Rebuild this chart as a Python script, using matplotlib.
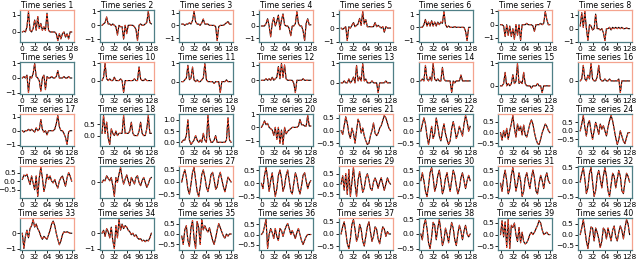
import matplotlib
matplotlib.use("Agg")
import matplotlib.pyplot as plt
from matplotlib.ticker import MultipleLocator
import numpy as np

# time axis: one sample every 4 steps, 0..128
t = np.arange(0, 129, 4)

ts1 = [0, 0.05, 0, 0.3, 1.2, 0.1, 0, 0.2, 0.7, 0.1, 0.9, 0.2, 0.5, 0.1, 0.3, 0.1, 1.1, 0.1, 0, 0, 0, 0, -0.1, -0.5, -0.1, -0.4, -0.1, 0, -0.3, -0.1, -0.4, 0, 0]
ts2 = [0, 0.1, 0.2, 0.6, 0.1, 0.1, 0, 0.1, 0, -0.1, -0.7, 0, -0.1, -0.1, -1.0, 0, -0.6, 0, 0, 0, 0, -0.1, -0.3, -1.1, 0, 0.1, 0, 0, 0.1, 0.2, 1.0, 0.2, 0.1]
ts3 = [0.1, 0.1, 0, 0.1, 0.1, 0.2, 0.1, 0.4, 1.1, 0.3, 0.1, 0.1, 0, 0.2, 0.5, 0.1, 0.1, 0.1, 0, 0, 0, 0, -0.1, -1.2, -0.1, 0, 0, 0, 0.1, 0.2, 0.3, 0.1, 0.1]
ts4 = [0, 0, 0, 0.2, 0.6, 0, -0.9, 0.2, 0.7, 0, 0.4, 0.9, -0.3, 0.5, 1.0, 0.1, 0, 0, -0.2, -0.8, 0, 0, 0.2, 1.2, 0.2, 0, 0, -0.4, -1.2, 0.2, 0.6, 0.1, 0.1]
ts5 = [0, -0.1, 0, 0.1, -0.9, 0.1, 0, 0.2, 0.4, 0.1, 0.2, 0.3, 0.7, 0.2, 1.2, 0.3, 0.6, 0.1, 0.1, 0.1, 0.1, 0.1, 0.4, 0.1, 0.2, 0.1, 0, 0.1, -0.3, 0.1, 0, 0, 0]
ts6 = [0, 0, 0.2, 0.6, 0.1, 0.4, 0.1, 0.5, 0.1, 0.4, 0.1, 0.4, 0.2, 0.4, 0.3, 1.2, 0.2, 0, 0.1, 0, 0, 0, 0.05, 0, 0, 0, 0, 0, 0, -0.3, -1.0, 0, 0]
ts7 = [0, 0, -0.1, -0.9, 0, -0.8, -0.1, -0.9, -0.3, -1.1, 0, -0.8, 0, -1.2, 0, 0, 0, 0.1, 0, 0, 0, -0.1, -0.5, 0, 0, 0, 0.1, 0, 0.1, 1.0, 0.4, 0, 0]
ts8 = [0.2, 1.2, 0.1, 1.3, 0, -0.9, 0.3, 0.2, -0.1, 0, 1.1, 0, 0, -0.1, 0, -0.3, -0.9, 0, 0, 0.1, -0.1, 0.1, 0, 0.1, 0, 0.1, 0, 0.1, 0, 0, 0.05, 0, 0]
ts9 = [0, 0.1, 0, 0.2, -1.0, 0.1, 0, 0.3, 1.0, 0.1, 0, -0.2, -0.9, 0, 0.2, -0.8, 0.1, 0, 0, 0.1, 0, 0, 0.1, 0.5, 0, 0, 0, 0.1, 0, 0, 0.1, 0, 0]
ts10 = [0, 0.2, 1.0, 0.1, 0, 0.1, 0, 0, 0.2, 0, 0, 0, 0.1, 0, -0.7, 0, 0, 0, 0, 0, 0, 0.1, 0, 0, 0.8, 0.1, 0, 0, 0.1, 0, 0, 0, 0]
ts11 = [0, 0, 0.1, 0.2, 0.9, 0.1, 0.2, 0.8, 0.1, 0, 0.1, 0, 0, 0.1, 0.2, 1.0, 0.1, 0, 0, 0, 0, -0.1, 0, 0, 0, -0.6, 0, 0, 0, 0.1, 0, 0, 0]
ts12 = [0, 0, 0, 0.1, 0, 0.1, 0, 0.2, 0, 0.1, 0.2, 0.9, 0.1, 1.1, 0.2, 1.0, 0.1, 0, 0, 0, 0, -0.2, -0.8, 0, 0, 0, 0, 0.1, 0, 0, 0, 0, 0]
ts13 = [0, 0, 0.1, 0, 0, 0.2, 0, 0.1, 0.3, 0, 0.9, 0.1, 0.3, 0.1, 1.0, 0.1, 0.2, 0, 0, 0, 0.1, 0, 0, 0, -0.5, 0, 0, 0, 0, 0.1, 0, 0, 0]
ts14 = [0, 0.1, 0, 0.8, 0.1, 0, 0.2, 0, 0.9, 0.1, 0, 0.1, 0, 0, 0.7, 0.1, 0, 0, 0, 0, -0.6, 0, -0.1, 0, 0, 0, 0.3, 0, 0, 0, 0, 0, 0]
ts15 = [0, 0, 0.1, 0.6, 0, 0.1, 0, 0.1, 0.5, 0.1, 0.2, 1.0, 0.1, 0.2, 0.1, 0.6, 0.1, 0, 0, 0, -0.1, 0, 0, 0, 0.1, 0, 0, -0.3, 0, 0, 0, 0, 0]
ts16 = [0, 0.1, 0.8, 0.1, 0, 0.3, 0.1, 0.9, 0.1, 0, 0, 0.2, 0.8, 0.1, 0, 0, 0.1, 0, 0, 0.1, 0, 0, 0, 0, 0, 0.1, -0.6, 0, 0, 0, 0, 0, 0]
ts17 = [0, -0.1, 0, 0, 0.1, 0, 0.1, 0, -0.1, 0.2, 0, 0.1, 0.8, 0.1, -0.1, 0, -0.3, 0, 0, 0, 0, 0.1, 0.5, 1.1, 0.3, 0, 0, -0.2, -0.5, -1.0, -0.1, 0, 0]
ts18 = [0.1, 0.9, 0.1, 0.6, -0.1, -0.4, 0.3, 0.1, 0, 0.2, 0, 0.1, 0.1, 0.1, 0.9, 0.1, 0.1, 0.1, 0.2, 0.6, 0.1, 0, 0, 0, 0.2, 0.6, 0.1, 0, 0, 0.3, 0.9, 0.1, 0.1]
ts19 = [0, 0.1, 0.1, 0.3, 1.0, 0.1, -0.1, 0, 0.1, 0.3, 0.1, 0, 0.1, 0, 0.4, 0.1, 0, 1.2, 0.2, 0, 0, 0.1, 0.3, 0, 0, 0, 0, 0, 0, 0.1, 1.1, 0.1, 0]
ts20 = [0, 0.2, 0.5, 0.2, 0.3, 0, -0.1, -0.2, -0.6, 0, -0.9, 0, -1.2, -0.2, -1.3, 0, -0.5, -0.3, -0.2, -0.1, 0, 0, 0, 0, 0.1, 0.6, 0.2, 0.2, 0.1, 0.1, 0.9, 0.1, 0.1]
ts21 = [0.0, -0.15, 0.2, 0.55, 0.3, -0.1, -0.3, 0.1, -0.1, -0.5, 0.0, 0.45, 0.3, -0.1, 0.1, -0.2, -0.4, -0.55, -0.5, -0.2, 0.0, 0.3, -0.1, -0.2, -0.1, 0.1, 0.2, 0.4, 0.6, 0.5, 0.3, 0.1, 0.0]
ts22 = [0.0, 0.3, 0.55, 0.3, -0.2, -0.55, -0.2, 0.2, -0.3, -0.1, 0.55, 0.2, -0.2, -0.4, 0.0, 0.3, -0.1, -0.35, -0.55, -0.4, 0.1, 0.4, 0.1, -0.3, -0.1, 0.2, 0.0, -0.2, 0.3, 0.65, 0.4, 0.0, 0.2]
ts23 = [0.0, -0.35, 0.1, -0.2, 0.2, -0.3, 0.1, 0.4, 0.8, 0.2, -0.2, 0.4, 0.1, 0.3, -0.1, 0.35, -0.1, -0.2, 0.1, 0.4, 0.6, 0.4, 0.0, -0.3, -0.5, -0.55, -0.3, 0.0, 0.2, 0.4, 0.3, 0.1, 0.0]
ts24 = [0.0, 0.4, 0.9, 0.2, -0.3, 0.4, 0.6, 0.0, -0.5, 0.0, 0.5, 0.2, -0.2, 0.4, 0.1, 0.3, 0.0, -0.3, 0.2, 0.6, 0.9, 0.6, 0.1, -0.4, -0.8, -0.5, 0.0, -0.3, -0.6, -0.75, -0.4, -0.1, -0.1]
ts25 = [0.1, 0.35, 0.3, 0.4, 0.1, -0.2, 0.3, -0.1, -0.5, 0.3, -0.9, 0.2, 0.8, 0.2, -0.6, -0.2, 0.4, 0.1, 0.3, 0.0, -0.1, 0.1, -0.2, -0.4, 0.0, 0.2, 0.3, 0.0, -0.3, 0.2, 0.5, 0.3, 0.0]
ts26 = [0.0, 0.15, 0.1, 0.4, 0.25, 0.1, 0.3, -0.2, -0.85, 0.3, 0.0, 0.5, 0.9, 0.3, -0.1, 0.2, 0.45, 0.1, -0.2, 0.3, 0.1, -0.1, 0.3, 0.4, 0.0, -0.2, 0.1, 0.3, 0.0, -0.3, -0.1, 0.2, 0.3]
ts27 = [0.0, 0.3, 0.5, 0.2, -0.3, -0.5, -0.1, 0.4, 0.6, 0.1, -0.4, -0.6, -0.2, 0.3, 0.5, 0.2, -0.2, -0.4, -0.1, 0.3, 0.4, 0.1, -0.3, -0.2, 0.2, 0.4, 0.1, -0.2, -0.4, -0.1, 0.2, 0.1, 0.0]
ts28 = [0.0, -0.2, 0.3, 0.6, 0.2, -0.3, 0.1, 0.4, -0.1, -0.5, -0.2, 0.3, 0.5, 0.2, -0.3, -0.1, 0.3, 0.5, 0.1, -0.3, -0.4, 0.0, 0.4, 0.2, -0.2, -0.4, -0.1, 0.3, 0.4, 0.1, -0.2, 0.0, 0.1]
ts29 = [0.0, 0.4, -0.3, 0.5, -0.5, 0.7, -0.6, 0.1, 0.8, 0.0, -0.6, 0.2, 0.6, 0.1, -0.4, -0.2, 0.3, 0.5, 0.2, -0.2, -0.3, 0.1, 0.3, 0.1, -0.2, 0.1, 0.3, 0.0, -0.3, 0.0, 0.3, 0.1, 0.0]
ts30 = [0.1, 0.4, 0.1, -0.3, -0.5, -0.1, 0.4, 0.6, 0.2, -0.3, -0.1, 0.3, 0.5, 0.1, -0.4, -0.2, 0.2, 0.4, 0.0, -0.3, 0.1, 0.5, 0.3, -0.1, -0.4, -0.2, 0.2, 0.4, 0.1, -0.2, 0.1, 0.3, 0.1]
ts31 = [0.0, -0.3, 0.2, 0.5, 0.1, -0.4, -0.2, 0.3, 0.6, 0.2, -0.3, 0.0, 0.4, 0.1, -0.5, -0.3, 0.2, 0.4, 0.1, -0.2, 0.2, 0.5, 0.2, -0.3, -0.4, 0.0, 0.3, 0.1, -0.2, 0.2, 0.4, 0.1, 0.0]
ts32 = [0.0, 0.3, 0.5, 0.1, -0.4, -0.2, 0.3, 0.5, 0.0, -0.5, -0.3, 0.2, 0.4, 0.1, -0.2, 0.2, 0.5, 0.2, -0.3, -0.5, -0.1, 0.3, 0.2, -0.2, 0.1, 0.4, 0.2, -0.3, -0.4, 0.0, 0.3, 0.2, 0.0]
ts33 = [0.0, -1.0, -0.2, 0.2, -0.3, 0.3, 0.5, 0.9, 0.4, 0.6, 0.3, 0.1, -0.2, -0.4, -0.2, -0.3, -0.4, -0.1, 0.2, 0.6, 0.8, 0.5, 0.0, -0.4, -0.75, -0.5, -0.1, 0.1, 0.05, 0.1, 0.05, 0.0, 0.0]
ts34 = [0.0, 0.2, -0.2, 0.3, 0.1, -0.3, 0.4, -0.5, -1.0, 0.5, -0.3, 0.9, 0.2, 0.6, 0.3, 0.5, 0.4, 0.2, 0.1, -0.1, 0.0, -0.2, -0.1, -0.3, -0.4, -0.35, -0.5, -0.45, -0.55, -0.45, -0.5, -0.3, 0.0]
ts35 = [-0.1, -0.5, 0.2, 0.4, -0.3, -0.6, 0.3, 0.65, -0.2, -0.7, 0.6, 0.3, -0.5, 0.7, 0.2, 0.4, 0.2, 0.1, 0.3, 0.0, -0.3, -0.5, -0.2, 0.2, 0.5, 0.3, 0.1, -0.1, -0.2, 0.0, -0.1, 0.0, 0.0]
ts36 = [0.0, 0.1, 0.4, 0.75, -0.7, 0.0, 0.3, 0.1, -0.2, 0.3, -0.1, -0.3, 0.3, 0.2, -0.1, 0.2, 0.4, 0.55, 0.3, 0.0, 0.2, 0.0, -0.2, 0.1, 0.3, 0.0, -0.3, -0.5, -0.3, -0.1, 0.0, 0.0, 0.0]
ts37 = [0.0, 0.3, 0.5, 0.1, -0.4, -0.6, -0.2, 0.4, 0.6, 0.2, -0.3, -0.1, 0.4, 0.2, -0.3, -0.5, -0.1, 0.3, 0.5, 0.1, -0.3, -0.1, 0.3, 0.2, -0.2, -0.4, 0.0, 0.3, 0.2, -0.1, 0.1, 0.0, 0.0]
ts38 = [0.0, -0.2, 0.3, 0.5, 0.2, -0.3, -0.5, -0.1, 0.4, 0.3, -0.2, 0.2, 0.5, 0.1, -0.4, -0.2, 0.2, 0.0, -0.3, 0.1, 0.4, 0.2, -0.2, -0.4, 0.0, 0.3, 0.1, -0.2, 0.1, 0.3, 0.0, -0.1, 0.0]
ts39 = [0.0, 0.6, -0.1, 0.55, -0.55, 0.65, -0.6, 0.4, 0.3, 0.5, 0.0, -0.3, 0.3, -0.35, 0.1, -0.3, -0.4, -0.35, -0.2, 0.0, 0.1, 0.0, 0.1, 0.25, 0.4, 0.6, 0.5, 0.2, 0.0, 0.05, 0.1, 0.0, 0.0]
ts40 = [0.0, 0.3, 0.7, 0.2, -0.3, -0.65, -0.1, 0.35, 0.3, -0.3, 0.3, 0.1, -0.2, -0.6, -0.3, 0.3, 0.2, -0.2, 0.3, 0.0, -0.3, 0.2, 0.4, -0.1, -0.3, 0.1, 0.4, 0.2, -0.2, 0.3, 0.7, 0.5, 0.0]

series = [ts1, ts2, ts3, ts4, ts5, ts6, ts7, ts8, ts9, ts10,
          ts11, ts12, ts13, ts14, ts15, ts16, ts17, ts18, ts19, ts20,
          ts21, ts22, ts23, ts24, ts25, ts26, ts27, ts28, ts29, ts30,
          ts31, ts32, ts33, ts34, ts35, ts36, ts37, ts38, ts39, ts40]

# y tick spacing per panel
ystep = [1, 1, 1, 1, 1, 1, 1, 1,
         1, 1, 1, 1, 1, 1, 1, 1,
         1, 0.5, 0.5, 1, 0.5, 0.5, 0.5, 0.5,
         0.5, 1, 0.5, 0.5, 0.5, 0.5, 0.5, 0.5,
         1, 1, 0.5, 0.5, 0.5, 0.5, 0.5, 0.5]

# frame colours: 1 = salmon, 0 = teal (top and right edges)
top_salmon = [1, 0, 1, 1, 1, 0, 1, 1,
              0, 1, 0, 1, 0, 1, 0, 1,
              1, 0, 0, 0, 1, 0, 1, 0,
              1, 0, 1, 0, 1, 0, 1, 0,
              1, 0, 0, 0, 1, 0, 0, 0]
right_salmon = [1, 0, 1, 1, 1, 0, 1, 1,
                0, 1, 0, 1, 0, 1, 0, 1,
                1, 0, 0, 0, 1, 0, 1, 1,
                1, 0, 1, 0, 1, 0, 1, 0,
                1, 0, 0, 0, 1, 0, 0, 1]

teal = "#4f7f86"
salmon = "#f4a38e"

fig = plt.figure(figsize=(6.4, 2.66), dpi=100)
W, H = 640, 266
for i, y in enumerate(series):
    r, c = divmod(i, 8)
    left = 20 + 79.7 * c
    top = 10 + 52 * r
    ax = fig.add_axes([left / W, 1 - (top + 32) / H, 54 / W, 32 / H])
    ax.plot(t, y, color="black", lw=0.8)
    ax.plot(t, y, color="#e8432b", lw=0.8, ls=(0, (2, 1.5)))
    ax.set_xticks([0, 32, 64, 96, 128])
    ax.set_xlim(-6, 134)
    ax.yaxis.set_major_locator(MultipleLocator(ystep[i]))
    ax.tick_params(labelsize=5.4, length=2, width=0.6, pad=1)
    ax.set_title("Time series %d" % (i + 1), fontsize=5.6, pad=1.5)
    for name, sp in ax.spines.items():
        sp.set_linewidth(0.9)
        sp.set_color(teal)
    if top_salmon[i]:
        ax.spines["top"].set_color(salmon)
    if right_salmon[i]:
        ax.spines["right"].set_color(salmon)

fig.savefig("out.png", dpi=100)
